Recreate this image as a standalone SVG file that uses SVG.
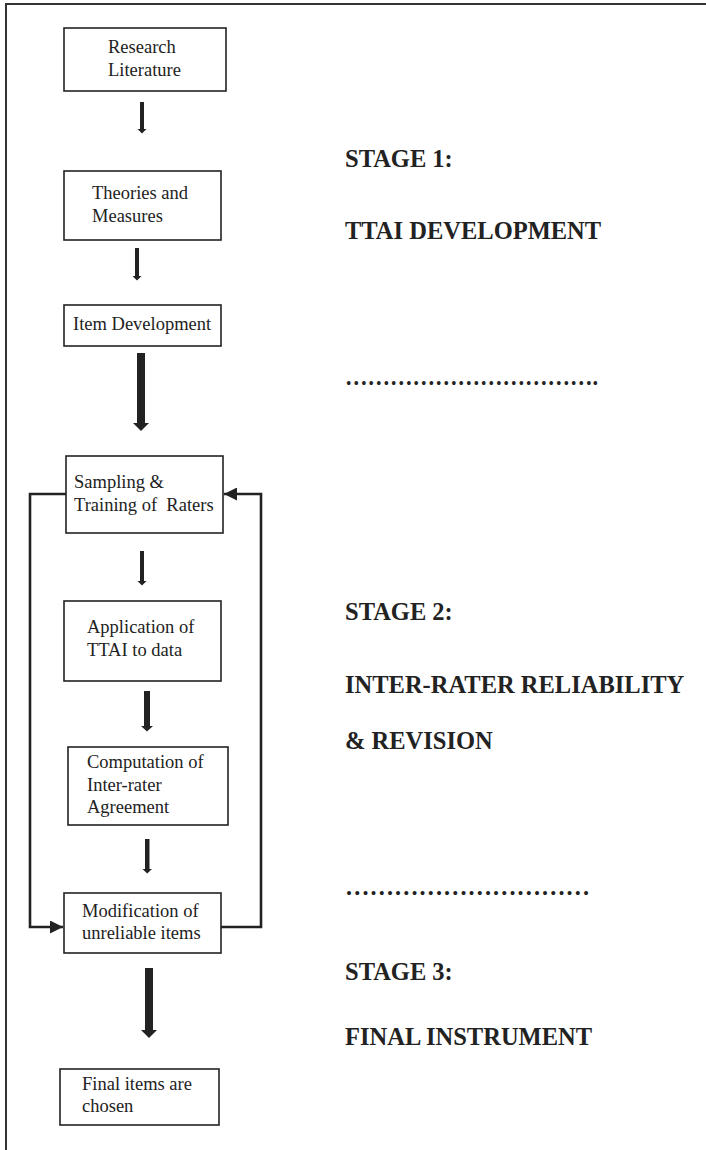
<svg xmlns="http://www.w3.org/2000/svg" width="706" height="1150" viewBox="0 0 706 1150">
  <style>
    .box { fill: #fff; stroke: #222; stroke-width: 1.6; }
    .lbl { font-family: "Liberation Serif", "Times New Roman", serif; font-size: 18.5px; fill: #222; white-space: pre; }
    .stage { font-family: "Liberation Serif", "Times New Roman", serif; font-size: 24.5px; font-weight: bold; fill: #222; }
    .arrow { fill: #222; }
    .loop { fill: none; stroke: #222; stroke-width: 2.6; }
    .frame { fill: none; stroke: #333; stroke-width: 2; }
  </style>
  <defs>
    <marker id="head" viewBox="0 0 10 10" refX="10" refY="5" markerWidth="5" markerHeight="5" markerUnits="strokeWidth" orient="auto">
      <path d="M0,0 L10,5 L0,10 Z" fill="#222"/>
    </marker>
  </defs>

  <rect width="706" height="1150" fill="#fff"/>

  <!-- page frame (top and left edges) -->
  <path class="frame" d="M6,1150 L6,4 L706,4"/>

  <!-- flow nodes -->
  <g id="research-literature">
    <rect class="box" x="64" y="28" width="162" height="63"/>
    <text class="lbl" x="108" y="53">Research</text>
    <text class="lbl" x="108" y="76">Literature</text>
  </g>
  <g id="theories-measures">
    <rect class="box" x="64" y="171" width="157" height="69"/>
    <text class="lbl" x="92" y="199">Theories and</text>
    <text class="lbl" x="92" y="222">Measures</text>
  </g>
  <g id="item-development">
    <rect class="box" x="64" y="305" width="157" height="41"/>
    <text class="lbl" x="73" y="330">Item Development</text>
  </g>
  <g id="sampling-training">
    <rect class="box" x="66" y="456" width="157" height="77"/>
    <text class="lbl" x="74" y="488">Sampling &amp;</text>
    <text class="lbl" x="74" y="511">Training of  Raters</text>
  </g>
  <g id="application">
    <rect class="box" x="64" y="601" width="157" height="80"/>
    <text class="lbl" x="87" y="633">Application of</text>
    <text class="lbl" x="87" y="656">TTAI to data</text>
  </g>
  <g id="computation">
    <rect class="box" x="68" y="747" width="160" height="78"/>
    <text class="lbl" x="87" y="768">Computation of</text>
    <text class="lbl" x="87" y="791">Inter-rater</text>
    <text class="lbl" x="87" y="813">Agreement</text>
  </g>
  <g id="modification">
    <rect class="box" x="64" y="893" width="157" height="60"/>
    <text class="lbl" x="82" y="917">Modification of</text>
    <text class="lbl" x="82" y="939">unreliable items</text>
  </g>
  <g id="final-items">
    <rect class="box" x="60" y="1069" width="159" height="56"/>
    <text class="lbl" x="82" y="1090">Final items are</text>
    <text class="lbl" x="82" y="1112">chosen</text>
  </g>

  <!-- connectors -->
  <g id="connectors">
    <!-- small downward arrows -->
    <polygon class="arrow" points="140,102 144,102 144,129 146.5,129 142,133.5 137.5,129 140,129"/>
    <polygon class="arrow" points="135,248 139,248 139,276 141.5,276 137,280.5 132.5,276 135,276"/>
    <polygon class="arrow" points="140,551 144,551 144,581 146.5,581 142,585.5 137.5,581 140,581"/>
    <polygon class="arrow" points="144,691 150,691 150,726 153,726 147,731.5 141,726 144,726"/>
    <polygon class="arrow" points="145,839 149.5,839 149.5,869 152,869 147.2,873.5 142.5,869 145,869"/>
    <!-- large downward arrows -->
    <polygon class="arrow" points="137,353 145,353 145,423 149,423 141,431 133,423 137,423"/>
    <polygon class="arrow" points="145,968 153,968 153,1030 157,1030 149,1038 141,1030 145,1030"/>
    <!-- revision loop -->
    <path class="loop" d="M66,494 L30,494 L30,927 L63,927" marker-end="url(#head)"/>
    <path class="loop" d="M221,927 L261,927 L261,494 L224,494" marker-end="url(#head)"/>
  </g>

  <!-- stage labels -->
  <g id="stage-labels">
    <text class="stage" x="345" y="167">STAGE 1:</text>
    <text class="stage" x="345" y="239">TTAI DEVELOPMENT</text>
    <text class="stage" x="345" y="385" textLength="253" lengthAdjust="spacingAndGlyphs">…………………………….</text>
    <text class="stage" x="345" y="620">STAGE 2:</text>
    <text class="stage" x="345" y="693">INTER-RATER RELIABILITY</text>
    <text class="stage" x="345" y="749">&amp; REVISION</text>
    <text class="stage" x="345" y="895" textLength="245" lengthAdjust="spacingAndGlyphs">…………………………</text>
    <text class="stage" x="345" y="980">STAGE 3:</text>
    <text class="stage" x="345" y="1045">FINAL INSTRUMENT</text>
  </g>
</svg>
